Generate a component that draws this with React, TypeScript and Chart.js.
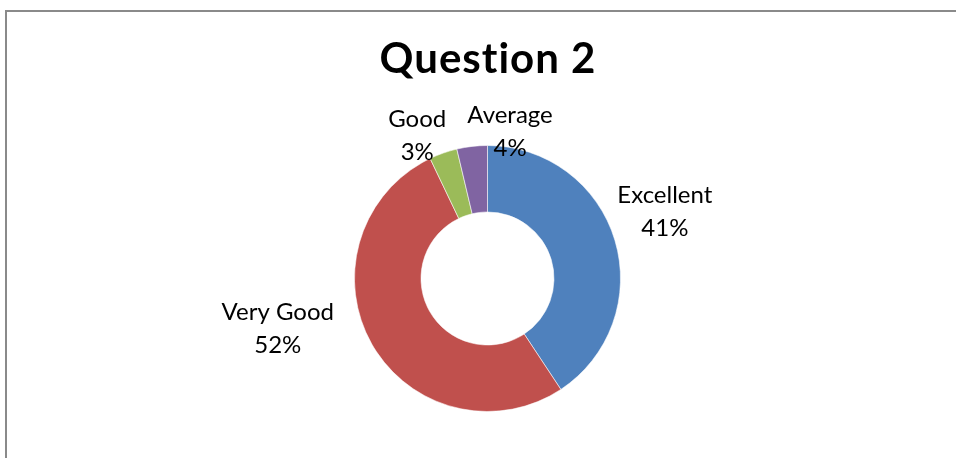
import React, { useEffect, useRef } from "react";
import { Chart, registerables } from "chart.js";

Chart.register(...registerables);

const categories = ["Excellent", "Very Good", "Good", "Average"];
const values = [40.7, 52.2, 3.4, 3.7];
const percentLabels = ["41%", "52%", "3%", "4%"];
const titleText = "Question 2";

const colors = ["#4F81BD", "#C0504D", "#9BBB59", "#8064A2"];
// label block offsets from the outer mid-arc point (style only)
const labelOffsets = [
  [50, -28],
  [-94, -15],
  [-26, -17],
  [38, -15],
];

const FONT = "Lato, 'Open Sans', sans-serif";

const labelPlugin = {
  id: "outerLabels",
  afterDatasetsDraw(chart: any) {
    const meta = chart.getDatasetMeta(0);
    const ctx = chart.ctx;
    ctx.save();
    ctx.font = `24px ${FONT}`;
    ctx.fillStyle = "#000";
    ctx.textAlign = "center";
    ctx.textBaseline = "middle";
    meta.data.forEach((arc: any, i: number) => {
      const p = arc.getProps(["x", "y", "startAngle", "endAngle", "outerRadius"], true);
      const mid = (p.startAngle + p.endAngle) / 2;
      const ax = p.x + Math.cos(mid) * p.outerRadius;
      const ay = p.y + Math.sin(mid) * p.outerRadius;
      const cx = ax + labelOffsets[i][0];
      const cy = ay + labelOffsets[i][1];
      ctx.fillText(categories[i], cx, cy - 16.5);
      ctx.fillText(percentLabels[i], cx, cy + 16.5);
    });
    // title (letter spacing disables the "ti" ligature)
    ctx.font = `bold 42px ${FONT}`;
    try {
      (ctx as any).letterSpacing = "1px";
    } catch (e) {}
    ctx.textAlign = "center";
    ctx.textBaseline = "alphabetic";
    ctx.fillText(titleText, 488, 73);
    ctx.restore();
  },
};

export default function App() {
  const ref = useRef<HTMLCanvasElement | null>(null);
  useEffect(() => {
    if (!ref.current) return;
    const chart = new Chart(ref.current, {
      type: "doughnut",
      data: {
        labels: categories,
        datasets: [
          {
            data: values,
            backgroundColor: colors,
            borderColor: "rgba(255,255,255,0.55)",
            borderWidth: 1,
            hoverOffset: 0,
            offset: 0,
          },
        ],
      },
      options: {
        responsive: false,
        animation: false,
        cutout: "50%",
        layout: { padding: { left: 354, right: 335, top: 145, bottom: 46 } },
        plugins: {
          legend: { display: false },
          tooltip: { enabled: false },
          title: { display: false },
        },
      },
      plugins: [labelPlugin],
    });
    return () => chart.destroy();
  }, []);

  return (
    <div style={{ position: "absolute", left: 0, top: 0, width: 956, height: 458, overflow: "hidden", background: "#fff" }}>
      <div
        style={{
          position: "absolute",
          left: 5,
          top: 10,
          width: 980,
          height: 480,
          border: "2px solid #8a8a8a",
          boxSizing: "border-box",
        }}
      />
      <canvas ref={ref} width={956} height={458} style={{ position: "absolute", left: 0, top: 0 }} />
    </div>
  );
}
